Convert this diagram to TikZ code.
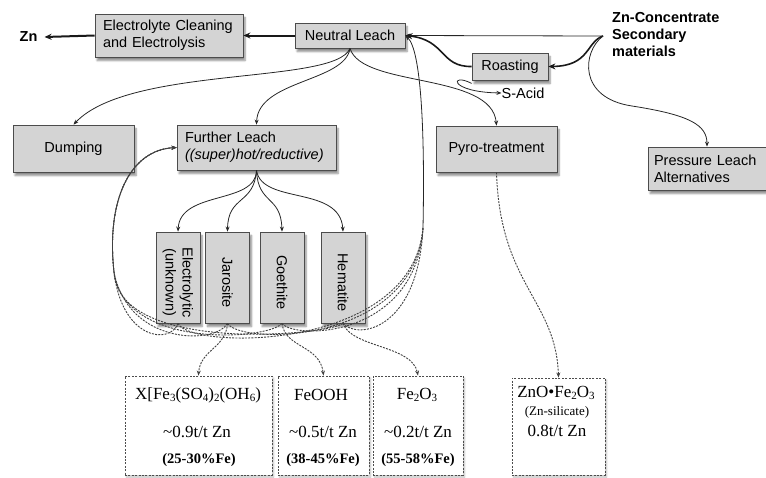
\documentclass[tikz,border=0pt]{standalone}
\usepackage{fontspec}
\setmainfont{Liberation Serif}
\setsansfont{Liberation Sans}
\usetikzlibrary{arrows.meta,shadows.blur}
\newcommand\csub[1]{\raisebox{-0.25ex}{\fontsize{11}{11}\selectfont #1}}
\begin{document}
\begin{tikzpicture}[x=1pt,y=-1pt,
  every node/.style={font=\sffamily\fontsize{14.5}{17}\selectfont},
  proc/.style={draw=black!70, line width=0.8pt, fill=black!17, inner ysep=0pt,
    blur shadow={shadow xshift=2pt, shadow yshift=-3.5pt, shadow blur steps=6, shadow opacity=45}},
  vbox/.style={proc, minimum width=44pt, minimum height=91pt, inner sep=0pt},
  vtext/.style={rotate=-90, align=center, inner sep=0pt},
  prod/.style={draw=black!70, line width=0.9pt, dash pattern=on 2pt off 1.4pt, fill=white, inner sep=0pt,
    blur shadow={shadow xshift=1.5pt, shadow yshift=-2pt, shadow blur steps=5, shadow opacity=25}},
  serif/.style={font=\rmfamily\fontsize{17}{19}\selectfont, inner sep=0pt},
  sbold/.style={font=\rmfamily\bfseries\fontsize{14.5}{16}\selectfont, inner sep=0pt},
  flow/.style={draw=black!85, line width=0.8pt, -{Stealth[length=5pt,width=4pt]}},
  main/.style={draw=black!90, line width=2pt, -{Stealth[length=7pt,width=6pt]}},
  back/.style={draw=black!75, line width=0.9pt, dash pattern=on 2pt off 1.2pt},
  backarr/.style={back, -{Stealth[length=5pt,width=4pt]}}
]
\useasboundingbox (0,0) rectangle (766,477);

% process boxes
\node[proc, minimum width=148pt, minimum height=43pt, text width=132pt, inner xsep=8pt, align=left] (clean) at (169,35.5) {Electrolyte Cleaning\\and Electrolysis};
\node[proc, minimum width=110pt, minimum height=25pt, align=center] (neutral) at (350,35.5) {Neutral Leach};
\node[proc, minimum width=76pt, minimum height=27pt, align=center] (roast) at (510,66.5) {Roasting};
\node[proc, minimum width=121pt, minimum height=47pt, align=center] (dump) at (73.5,148.5) {Dumping};
\node[proc, minimum width=159pt, minimum height=45pt, text width=143pt, inner xsep=8pt, align=left] (further) at (256.5,147.5) {Further Leach\\\textit{((super)hot/reductive)}};
\node[proc, minimum width=121pt, minimum height=46pt, align=center] (pyro) at (496.5,149) {Pyro-treatment};
\node[proc, minimum width=118pt, minimum height=43pt, text width=106pt, inner xsep=6pt, align=left] (pressure) at (707,168.5) {Pressure Leach\\Alternatives};

% iron removal routes
\node[vbox] (elyt) at (178,277.5) {};
\node[vtext] (elytT) at ([yshift=-5pt]elyt.center) {Electrolytic\\(unknown)};
\node[vbox] (jaro) at (227.5,277.5) {};
\node[vtext] (jaroT) at ([yshift=-5pt]jaro.center) {Jarosite};
\node[vbox] (goet) at (282,277.5) {};
\node[vtext] (goetT) at ([yshift=-5pt]goet.center) {Goethite};
\node[vbox] (hema) at (343,277.5) {};
\node[vtext] (hemaT) at ([yshift=-5pt]hema.center) {Hematite};

% free labels
\node[font=\sffamily\bfseries\fontsize{14.5}{17}\selectfont, inner sep=0pt] (zn) at (28.5,37) {Zn};
\node[font=\sffamily\bfseries\fontsize{14.5}{17}\selectfont, inner sep=0pt, anchor=west, align=left] (conc) at (612,35) {Zn-Concentrate\\Secondary\\materials};
\node[inner sep=0pt] (sacid) at (523,93) {S-Acid};
\coordinate (feed) at (603,36);

% residue boxes
\node[prod, minimum width=147pt, minimum height=99pt] (res1) at (198.5,425.5) {};
\node[prod, minimum width=91pt, minimum height=99pt] (res2) at (323.5,425.5) {};
\node[prod, minimum width=90pt, minimum height=99pt] (res3) at (418,425.5) {};
\node[prod, minimum width=93pt, minimum height=97pt] (res4) at (558.5,426.5) {};

\node[serif] (r1a) at (198,395) {X[Fe\csub{3}(SO\csub{4})\csub{2}(OH\csub{6})};
\node[serif] (r1b) at (197,432) {\textasciitilde 0.9t/t Zn};
\node[sbold] (r1c) at (199,460) {(25-30\%Fe)};
\node[serif] (r2a) at (321,395) {FeOOH};
\node[serif] (r2b) at (323,432) {\textasciitilde 0.5t/t Zn};
\node[sbold] (r2c) at (323,460) {(38-45\%Fe)};
\node[serif] (r3a) at (417,395) {Fe\csub{2}O\csub{3}};
\node[serif] (r3b) at (418,432) {\textasciitilde 0.2t/t Zn};
\node[sbold] (r3c) at (418,460) {(55-58\%Fe)};
\node[serif] (r4a) at (556,393) {ZnO•Fe\csub{2}O\csub{3}};
\node[serif, font=\rmfamily\fontsize{13}{15}\selectfont] (r4b) at (557,412) {(Zn-silicate)};
\node[serif] (r4c) at (557,431) {0.8t/t Zn};

% main zinc line
\draw[main] (neutral.west) -- (clean.east);
\draw[main] (clean.west) -- ([xshift=7pt]zn.east);

% feed
\draw[flow] (feed) -- (neutral.east);
\draw[main, line width=1.6pt] (feed) .. controls (586,42) and (590,66) .. (roast.east);
\draw[main, line width=1.6pt] (roast.west) .. controls (440,67) and (446,40) .. (neutral.east);
\draw[flow] (feed) .. controls (582,52) and (578,98) .. (632,106) .. controls (690,115) and (707,125) .. (pressure.north);
\draw[flow] ([yshift=-3pt]roast.south west) .. controls (450,72) and (448,92) .. (sacid.west);

% neutral leach residue
\draw[flow] (neutral.south) .. controls (335,85) and (130,65) .. (dump.north);
\draw[flow] (neutral.south) .. controls (345,82) and (258,80) .. (further.north);
\draw[flow] (neutral.south) .. controls (362,88) and (492,72) .. (pyro.north);

% further leach to iron routes
\draw[flow] (further.south) .. controls (256,205) and (180,190) .. (elyt.north);
\draw[flow] (further.south) .. controls (254,205) and (228,195) .. (jaro.north);
\draw[flow] (further.south) .. controls (258,205) and (281,195) .. (goet.north);
\draw[flow] (further.south) .. controls (262,205) and (340,185) .. (hema.north);

% recycle back to further leach
\coordinate (lj) at (114,272);
\draw[backarr] (elyt.south) .. controls (170,345) and (122,340) .. (lj) .. controls (106,200) and (130,150) .. (further.west);
\draw[backarr] (jaro.south) .. controls (215,345) and (128,345) .. (lj) .. controls (106,200) and (130,150) .. (further.west);
\draw[backarr] (goet.south) .. controls (268,340) and (124,350) .. (lj) .. controls (106,200) and (130,150) .. (further.west);
\draw[backarr] (hema.south) .. controls (330,335) and (118,355) .. (lj) .. controls (106,200) and (130,150) .. (further.west);

% recycle back to neutral leach
\coordinate (rj) at (423,228);
\draw[back] (elyt.south) .. controls (190,350) and (412,352) .. (rj);
\draw[back] (jaro.south) .. controls (240,345) and (414,345) .. (rj);
\draw[back] (goet.south) .. controls (295,340) and (416,338) .. (rj);
\draw[back] (hema.south) .. controls (358,340) and (418,330) .. (rj);
\draw[flow] (rj) .. controls (425,130) and (421,50) .. (neutral.east);

% residues
\draw[backarr] (jaro.south) .. controls (226,348) and (200,350) .. (res1.north);
\draw[backarr] (goet.south) .. controls (285,348) and (320,345) .. (res2.north);
\draw[backarr] (hema.south) .. controls (352,348) and (412,345) .. (res3.north);
\draw[backarr] (pyro.south) .. controls (500,285) and (556,300) .. (res4.north);
\end{tikzpicture}
\end{document}
